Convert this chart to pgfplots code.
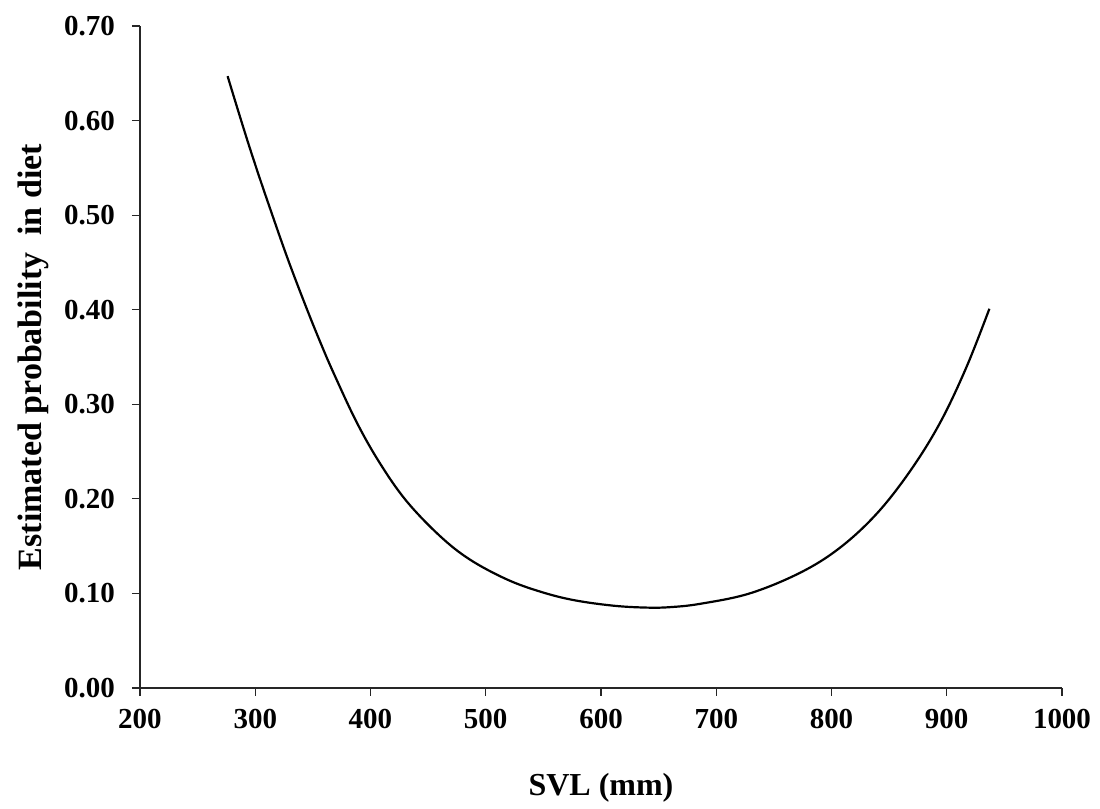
\documentclass[border=0pt]{standalone}
\usepackage{pgfplots}
\pgfplotsset{compat=1.18}
\usepackage{fontspec}
\setmainfont{Liberation Serif}
\begin{document}
\begin{tikzpicture}
\useasboundingbox (0,0) rectangle (550pt,404.5pt);
\begin{axis}[
  at={(70pt,60.5pt)}, anchor=south west,
  scale only axis,
  width=461pt, height=331pt,
  xmin=200, xmax=1000, ymin=0, ymax=0.70,
  axis lines*=left,
  axis line style={black!85, line width=0.6pt},
  tick style={black!85, line width=0.6pt},
  tick align=outside,
  major tick length=4pt,
  xtick={200,300,...,1000},
  ytick={0,0.1,...,0.71},
  /pgf/number format/assume math mode=true,
  x tick label style={/pgf/number format/1000 sep={}, font=\fontsize{14.5}{14.5}\selectfont\bfseries, yshift=-3pt},
  y tick label style={/pgf/number format/fixed, /pgf/number format/fixed zerofill, /pgf/number format/precision=2, font=\fontsize{14.5}{14.5}\selectfont\bfseries, xshift=-5pt},
  xlabel={SVL (mm)},
  ylabel={Estimated probability\ \ in diet},
  xlabel style={at={(axis description cs:0.5,-0.151)}, anchor=center, font=\fontsize{16}{16}\selectfont\bfseries},
  ylabel style={at={(axis description cs:-0.116,0.5)}, anchor=center, rotate=0, font=\fontsize{17}{17}\selectfont\bfseries},
  clip=false,
]
\addplot[black, line width=1.1pt, smooth, tension=0.6] coordinates {
(276,0.647) (285,0.611) (295,0.572) (305,0.535) (314,0.503) (324,0.468)
(333,0.438) (346,0.397) (357,0.364) (368,0.333) (388,0.281) (408,0.238)
(431,0.198) (460,0.161) (486,0.136) (518,0.115) (547,0.102) (576,0.093)
(611,0.087) (640,0.085) (660,0.0855) (686,0.089) (729,0.100)
(773,0.122) (807,0.148) (839,0.184) (868,0.229) (894,0.280) (917,0.339)
(937,0.401)
};
\end{axis}
\end{tikzpicture}
\end{document}
